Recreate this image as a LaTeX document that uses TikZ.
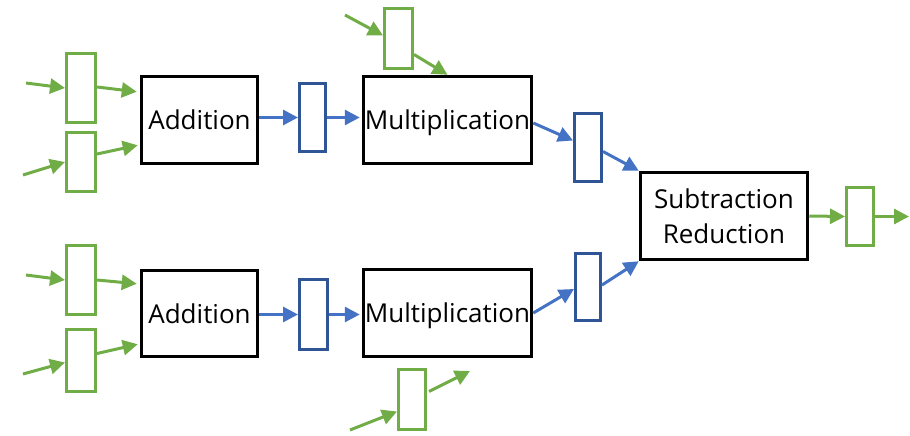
\documentclass[tikz,border=0pt]{standalone}
\usepackage{fontspec}
\setmainfont{Open Sans}
\usetikzlibrary{arrows.meta,calc}
\definecolor{regGreen}{HTML}{70AD47}
\definecolor{linkBlue}{HTML}{4472C4}
\definecolor{regBlue}{HTML}{2F5597}
\tikzset{
  unitbox/.style={draw=black, line width=3.5pt, inner sep=0pt, align=center,
    font=\fontsize{26}{35}\selectfont},
  oneline/.style={unitbox, text depth=0pt},
  greenreg/.style={draw=regGreen, line width=3pt, inner sep=0pt},
  bluereg/.style={draw=regBlue, line width=3pt, inner sep=0pt},
  garrow/.style={draw=regGreen, line width=3pt, -{Triangle[length=15pt,width=15pt]}},
  barrow/.style={draw=linkBlue, line width=3pt, -{Triangle[length=15pt,width=15pt]}},
}
\begin{document}
\begin{tikzpicture}[x=1pt, y=-1pt]
\useasboundingbox (0,0) rectangle (910,436);

% functional units
\node[oneline, minimum width=116pt, minimum height=87pt] (add1) at (199.5,120) {Addition};
\node[oneline, minimum width=116pt, minimum height=86pt] (add2) at (199.5,313.5) {Addition};
\node[oneline, minimum width=168pt, minimum height=87pt] (mul1) at (447.5,120) {Multiplication};
\node[oneline, minimum width=168pt, minimum height=87pt] (mul2) at (447.5,313) {Multiplication};
\node[unitbox, minimum width=167pt, minimum height=87pt] (sub) at (724,216) {Subtraction\\Reduction};

% input / output registers
\node[greenreg, minimum width=29pt, minimum height=69pt] (g1) at (81,88) {};
\node[greenreg, minimum width=29pt, minimum height=59pt] (g2) at (81,162) {};
\node[greenreg, minimum width=29pt, minimum height=69pt] (g3) at (81,280) {};
\node[greenreg, minimum width=29pt, minimum height=62pt] (g4) at (81,360.5) {};
\node[greenreg, minimum width=28pt, minimum height=60pt] (gt) at (398.5,38.5) {};
\node[greenreg, minimum width=27pt, minimum height=60pt] (gb) at (412,399.5) {};
\node[greenreg, minimum width=27pt, minimum height=58pt] (go) at (860,216.5) {};

% pipeline registers
\node[bluereg, minimum width=26pt, minimum height=68pt] (b1) at (312.5,117.5) {};
\node[bluereg, minimum width=28pt, minimum height=70pt] (b2) at (313.5,314.5) {};
\node[bluereg, minimum width=27pt, minimum height=68pt] (b3) at (588,147.5) {};
\node[bluereg, minimum width=25pt, minimum height=67pt] (b4) at (588,287) {};

% free ends of the green connectors
\coordinate (in1) at (26,83);
\coordinate (in2) at (23,175);
\coordinate (in3) at (26,275);
\coordinate (in4) at (23,374);
\coordinate (inT) at (345,15);
\coordinate (inB) at (350,430);
\coordinate (outB) at (470,371);
\coordinate (outR) at (909,216.5);

% green connectors
\draw[garrow] (in1) -- (g1.west);
\draw[garrow] ($(g1.east)+(0,-1)$) -- ($(add1.north west)+(-3,17)$);
\draw[garrow] (in2) -- (g2.west);
\draw[garrow] ($(g2.east)+(0,-8)$) -- ($(add1.south west)+(-2,-20)$);
\draw[garrow] (in3) -- (g3.west);
\draw[garrow] (g3.east) -- ($(add2.north west)+(-3,15)$);
\draw[garrow] (in4) -- ($(g4.west)+(0,2)$);
\draw[garrow] ($(g4.east)+(0,-7)$) -- ($(add2.south west)+(-2,-14)$);
\draw[garrow] (inT) -- ($(gt.west)+(0,-3)$);
\draw[garrow] ($(gt.east)+(0,16)$) -- (mul1.north);
\draw[garrow] (inB) -- ($(gb.west)+(0,12)$);
\draw[garrow] ($(gb.east)+(2,-8)$) -- (outB);
\draw[garrow] (sub.east) -- (go.west);
\draw[garrow] (go.east) -- (outR);

% blue connectors
\draw[barrow] (add1.east |- b1.west) -- (b1.west);
\draw[barrow] (b1.east) -- ($(mul1.west |- b1.east)+(-2,0)$);
\draw[barrow] (add2.east |- b2.west) -- (b2.west);
\draw[barrow] (b2.east) -- ($(mul2.west |- b2.east)+(-2,0)$);
\draw[barrow] ($(mul1.east)+(0,3)$) -- ($(b3.west)+(0,-7)$);
\draw[barrow] ($(b3.east)+(0,4)$) -- (sub.north west);
\draw[barrow] (mul2.east) -- ($(b4.west)+(0,2)$);
\draw[barrow] ($(b4.east)+(0,-2)$) -- (sub.south west);
\end{tikzpicture}
\end{document}
